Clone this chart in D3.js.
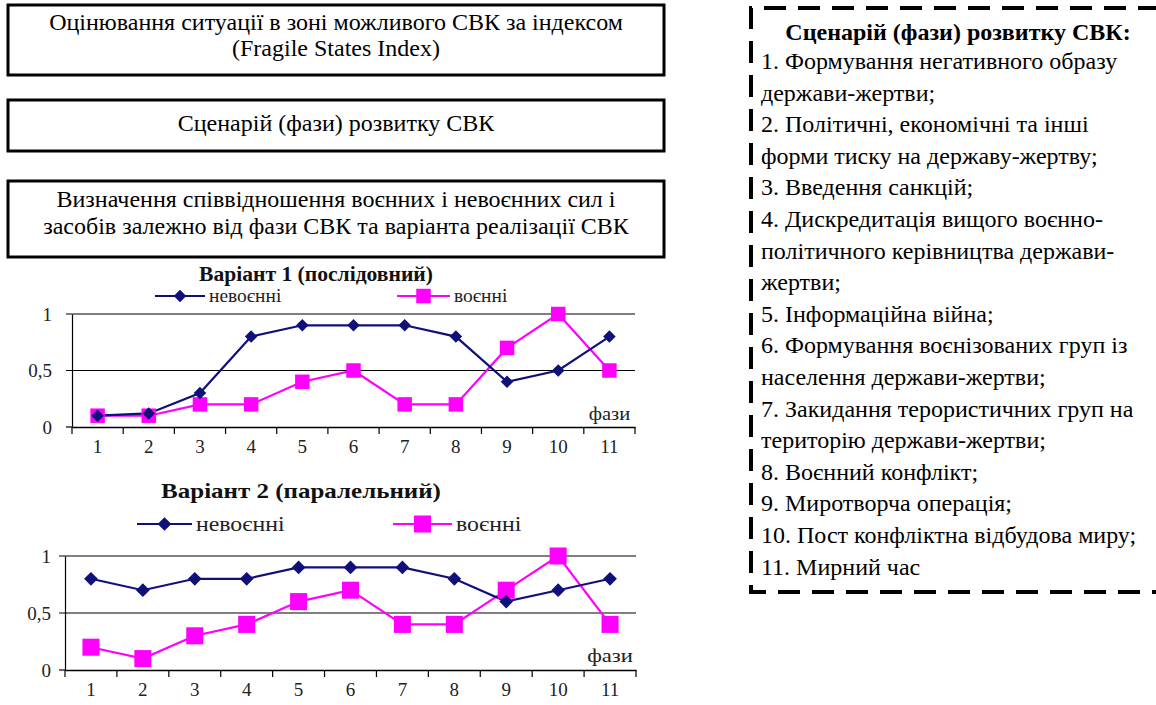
<!DOCTYPE html>
<html>
<head>
<meta charset="utf-8">
<script src="https://cdn.jsdelivr.net/npm/d3@7"></script>
<style>
  body { margin: 0; background: #fff; }
</style>
</head>
<body>
<svg id="chart" width="1156" height="705"></svg>
<script>
// Data
const phases = ["1", "2", "3", "4", "5", "6", "7", "8", "9", "10", "11"];
const yTicks = [0, 0.5, 1];
const yTickLabels = ["0", "0,5", "1"];
const seriesNames = ["невоєнні", "воєнні"];

const v1NonMilitary = [0.1, 0.12, 0.3, 0.8, 0.9, 0.9, 0.9, 0.8, 0.4, 0.5, 0.8];
const v1Military = [0.1, 0.1, 0.2, 0.2, 0.4, 0.5, 0.2, 0.2, 0.7, 1.0, 0.5];
const v2NonMilitary = [0.8, 0.7, 0.8, 0.8, 0.9, 0.9, 0.9, 0.8, 0.6, 0.7, 0.8];
const v2Military = [0.2, 0.1, 0.3, 0.4, 0.6, 0.7, 0.4, 0.4, 0.7, 1.0, 0.4];

const boxTexts = [
    ["Оцінювання ситуації в зоні можливого СВК за індексом", "(Fragile States Index)"],
    ["Сценарій (фази) розвитку СВК"],
    ["Визначення співвідношення воєнних і невоєнних сил і", "засобів залежно від фази СВК та варіанта реалізації СВК"]
];

const scenarioTitle = "Сценарій (фази) розвитку СВК:";
const scenarioLines = [
    "1. Формування негативного образу",
    "держави-жертви;",
    "2. Політичні, економічні та інші",
    "форми тиску на державу-жертву;",
    "3. Введення санкцій;",
    "4. Дискредитація вищого воєнно-",
    "політичного керівництва держави-",
    "жертви;",
    "5. Інформаційна війна;",
    "6. Формування воєнізованих груп із",
    "населення держави-жертви;",
    "7. Закидання терористичних груп на",
    "територію держави-жертви;",
    "8. Воєнний конфлікт;",
    "9. Миротворча операція;",
    "10. Пост конфліктна відбудова миру;",
    "11. Мирний час"
];

const FONT = "'Liberation Serif', 'Times New Roman', serif";
const navy = "#10107a";
const magenta = "#ff00ff";

const svg = d3.select("#chart").style("font-family", FONT);

// text placed at (x, y), optionally stretched horizontally by sx (the chart text is wider than Times)
function addText(parent, x, y, str, opts) {
    const o = Object.assign({ size: 24, sx: 1, anchor: "start", weight: "normal", fill: "#000" }, opts);
    return parent.append("text")
        .attr("transform", o.sx === 1 ? `translate(${x},${y})` : `translate(${x},${y}) scale(${o.sx},1)`)
        .attr("text-anchor", o.anchor)
        .attr("dominant-baseline", "central")
        .style("font-family", FONT)
        .style("font-size", o.size + "px")
        .style("font-weight", o.weight)
        .attr("fill", o.fill)
        .text(str);
}

// Top-left boxes
const boxes = [
    { x: 8, y: 5, w: 656, h: 70, lineY: [22, 48] },
    { x: 8, y: 100, w: 656, h: 51, lineY: [123] },
    { x: 8, y: 181, w: 656, h: 76, lineY: [199, 226] }
];

boxes.forEach((b, i) => {
    svg.append("rect")
        .attr("x", b.x).attr("y", b.y)
        .attr("width", b.w).attr("height", b.h)
        .attr("fill", "none")
        .attr("stroke", "#000")
        .attr("stroke-width", 3);

    boxTexts[i].forEach((t, j) => {
        addText(svg, b.x + b.w / 2, b.lineY[j], t, { size: 24, anchor: "middle" });
    });
});

// Dashed scenario box on the right
svg.append("path")
    .attr("d", "M1160,8 L751,8 L751,592 L1160,592")
    .attr("fill", "none")
    .attr("stroke", "#000")
    .attr("stroke-width", 4)
    .attr("stroke-dasharray", "22,12");

addText(svg, 958, 32, scenarioTitle, { size: 24, anchor: "middle", weight: "bold" });

scenarioLines.forEach((t, i) => {
    addText(svg, 761, 61 + i * 31.6, t, { size: 24 });
});

// Line charts
function drawChart(cfg) {
    const g = svg.append("g");

    const x = d3.scaleBand()
        .domain(phases)
        .range([cfg.left, cfg.right]);

    const y = d3.scaleLinear()
        .domain([0, 1])
        .range([cfg.bottom, cfg.top]);

    const cx = i => x(phases[i]) + x.bandwidth() / 2;

    // Title
    addText(g, cfg.titleX, cfg.titleY, cfg.title,
        { size: cfg.titleSize, sx: cfg.sx, anchor: "middle", weight: "bold", fill: "#111" });

    // Gridlines (0.5 and 1) with outward ticks
    g.selectAll(".grid")
        .data(yTicks)
        .enter().append("line")
        .attr("x1", cfg.left - 6).attr("x2", d => d > 0 ? cfg.right : cfg.left)
        .attr("y1", d => y(d)).attr("y2", d => y(d))
        .attr("stroke", "#000")
        .attr("stroke-width", 1.2);

    // Y axis
    const yAxis = g.append("g")
        .attr("transform", `translate(${cfg.left},0)`)
        .call(d3.axisLeft(y)
            .tickValues(yTicks)
            .tickSize(0)
            .tickPadding(cfg.yPad)
            .tickFormat((d, i) => yTickLabels[i]));
    yAxis.select(".domain").attr("stroke", "#000").attr("stroke-width", 1.2);
    yAxis.selectAll("text")
        .style("font-family", FONT)
        .style("font-size", cfg.tickSize + "px")
        .attr("fill", "#222");

    // X axis with ticks between categories
    const xAxis = g.append("g")
        .attr("transform", `translate(0,${cfg.bottom})`)
        .call(d3.axisBottom(x).tickSize(0).tickPadding(13));
    xAxis.select(".domain").attr("stroke", "#000").attr("stroke-width", 1.5);
    xAxis.selectAll("text")
        .style("font-family", FONT)
        .style("font-size", cfg.tickSize + "px")
        .attr("fill", "#222");

    const boundaries = phases.map(p => x(p)).concat([cfg.right]);
    g.selectAll(".xtick")
        .data(boundaries)
        .enter().append("line")
        .attr("x1", d => d).attr("x2", d => d)
        .attr("y1", cfg.bottom).attr("y2", cfg.bottom + 7)
        .attr("stroke", "#000")
        .attr("stroke-width", 1.2);

    // Axis title "фази"
    addText(g, cx(10), cfg.bottom - 14, "фази", { size: cfg.tickSize, sx: cfg.sx, anchor: "middle", fill: "#222" });

    const line = d3.line()
        .x((d, i) => cx(i))
        .y(d => y(d));

    // Military series (magenta squares)
    g.append("path")
        .datum(cfg.military)
        .attr("fill", "none")
        .attr("stroke", magenta)
        .attr("stroke-width", 2.2)
        .attr("d", line);

    // Non-military series (navy diamonds)
    g.append("path")
        .datum(cfg.nonMilitary)
        .attr("fill", "none")
        .attr("stroke", navy)
        .attr("stroke-width", 2.2)
        .attr("d", line);

    const diamond = d3.symbol().type(d3.symbolDiamond2).size(cfg.diamondSize);
    const square = d3.symbol().type(d3.symbolSquare).size(cfg.squareSize);

    g.selectAll(".mil")
        .data(cfg.military)
        .enter().append("path")
        .attr("d", square)
        .attr("transform", (d, i) => `translate(${cx(i)},${y(d)})`)
        .attr("fill", magenta);

    g.selectAll(".nm")
        .data(cfg.nonMilitary)
        .enter().append("path")
        .attr("d", diamond)
        .attr("transform", (d, i) => `translate(${cx(i)},${y(d)})`)
        .attr("fill", navy);

    // Legend
    const lg = g.append("g");
    const entries = [
        { r: cfg.leg1, color: navy, sym: diamond, name: seriesNames[0] },
        { r: cfg.leg2, color: magenta, sym: square, name: seriesNames[1] }
    ];
    entries.forEach(e => {
        lg.append("line")
            .attr("x1", e.r[0]).attr("x2", e.r[1])
            .attr("y1", cfg.legY).attr("y2", cfg.legY)
            .attr("stroke", e.color).attr("stroke-width", 2.2);
        lg.append("path")
            .attr("d", e.sym)
            .attr("transform", `translate(${(e.r[0] + e.r[1]) / 2},${cfg.legY})`)
            .attr("fill", e.color);
        addText(lg, e.r[1] + 4, cfg.legY, e.name, { size: cfg.legSize, sx: cfg.sx, fill: "#222" });
    });
}

drawChart({
    title: "Варіант 1 (послідовний)",
    titleX: 316, titleY: 274, titleSize: 20,
    left: 72, right: 635, top: 314, bottom: 427,
    yPad: 20, tickSize: 19, legSize: 18, sx: 1.08,
    legY: 296, leg1: [155, 205], leg2: [397, 450],
    nonMilitary: v1NonMilitary, military: v1Military,
    diamondSize: 100, squareSize: 210
});

drawChart({
    title: "Варіант 2 (паралельний)",
    titleX: 301, titleY: 491, titleSize: 21,
    left: 65, right: 636, top: 556, bottom: 670,
    yPad: 14, tickSize: 19, legSize: 20, sx: 1.19,
    legY: 524, leg1: [137, 192], leg2: [393, 452],
    nonMilitary: v2NonMilitary, military: v2Military,
    diamondSize: 120, squareSize: 290
});
</script>
</body>
</html>
